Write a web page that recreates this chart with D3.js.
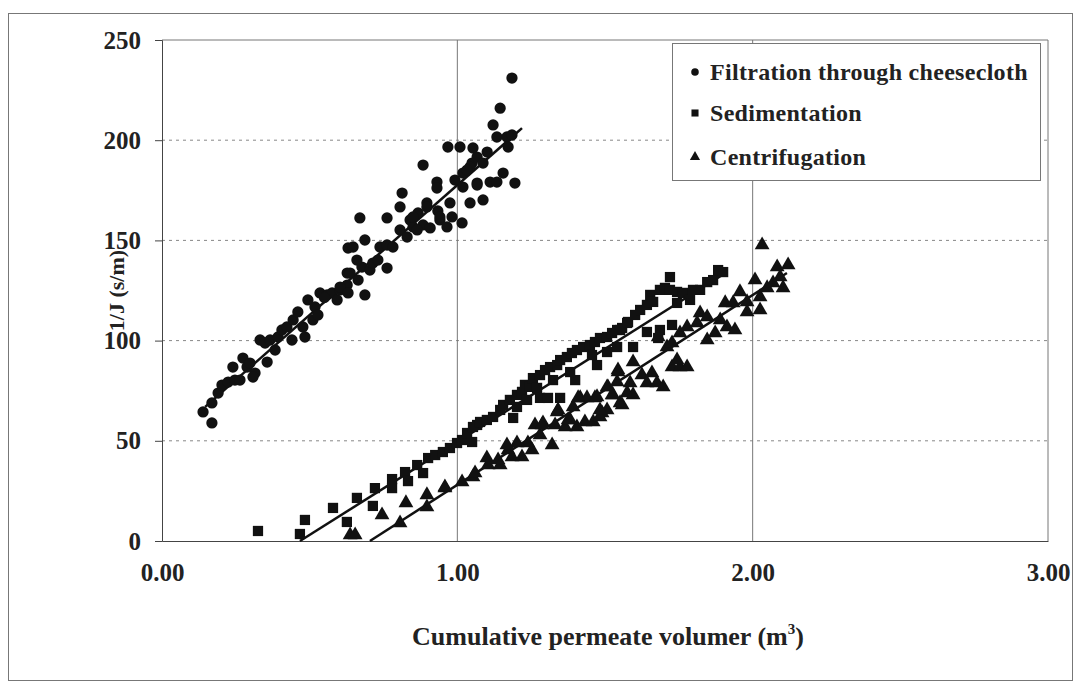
<!DOCTYPE html>
<html><head><meta charset="utf-8">
<script src="https://cdn.jsdelivr.net/npm/d3@7"></script>
<style>
html,body{margin:0;padding:0;background:#fff;}
svg{display:block;font-family:"Liberation Serif","Times New Roman",serif;}
</style></head>
<body><svg id="chart" width="1077" height="690"></svg>
<script>
const xTicks = [0, 1, 2, 3];
const xTickLabels = ["0.00", "1.00", "2.00", "3.00"];
const yTicks = [0, 50, 100, 150, 200, 250];
const seriesNames = ["Filtration through cheesecloth", "Sedimentation", "Centrifugation"];

const filtration = [
[0.139,64.4],[0.169,58.9],[0.169,68.9],[0.19,73.8],[0.203,77.8],[0.224,79.3],[0.247,80.3],[0.24,86.8],
[0.264,80.3],[0.274,91.3],[0.288,86.8],[0.298,88.8],[0.315,83.8],[0.308,81.8],[0.332,100.3],[0.349,98.8],
[0.356,89.3],[0.366,100.3],[0.383,95.3],[0.393,101.8],[0.406,105.3],[0.423,106.8],[0.44,100.3],[0.444,110.3],
[0.46,114.3],[0.477,106.8],[0.484,101.8],[0.494,120.3],[0.511,110.3],[0.518,116.8],[0.528,112.8],[0.535,123.8],
[0.559,122.8],[0.576,123.8],[0.593,120.3],[0.603,125.3],[0.627,133.7],[0.627,127.7],[0.63,146.2],[0.55,121.5],
[0.603,126.7],[0.63,123.8],[0.637,133.7],[0.664,130.2],[0.687,122.8],[0.677,136.7],[0.66,140.2],[0.647,146.7],
[0.687,150.2],[0.704,135.2],[0.714,138.7],[0.731,140.2],[0.762,136.2],[0.738,146.7],[0.762,147.7],[0.782,146.7],
[0.806,155.2],[0.83,151.7],[0.84,160.2],[0.85,156.7],[0.867,163.7],[0.884,157.7],[0.897,168.7],[0.908,156.2],
[0.934,164.7],[0.941,160.2],[0.965,156.7],[0.982,161.7],[1.016,158.7],[0.806,166.7],[0.813,173.6],[0.762,161.2],
[0.67,161.2],[0.884,187.6],[0.931,179.1],[0.931,176.1],[0.975,168.7],[0.992,180.1],[1.019,176.6],[1.019,183.6],
[1.043,168.7],[1.067,178.6],[1.087,170.2],[1.111,179.1],[1.05,188.6],[1.185,231],[1.145,216],[1.121,207.6],
[1.134,201.6],[1.168,201.6],[1.185,202.6],[1.172,196.6],[0.968,196.6],[1.009,196.6],[1.053,196.1],[1.067,191.6],
[1.101,194.1],[1.087,188.6],[1.043,186.6],[1.033,185.1],[1.134,179.1],[1.155,183.6],[1.195,178.6],[1.067,177.6],
[0.85,161.7],[0.897,166.7],[0.941,161.7],[0.864,155.2]
];

const sedimentation = [
[0.325,5],[0.467,3.5],[0.484,10.5],[0.579,16.5],[0.626,9.5],[0.66,21.5],[0.714,17.5],[0.721,26.4],
[0.779,30.9],[0.779,26.4],[0.823,34.4],[0.833,29.9],[0.864,37.9],[0.884,33.9],[0.901,41.4],[0.925,42.9],
[0.951,44.4],[0.975,46.4],[0.999,48.9],[1.016,50.4],[1.033,53.9],[1.05,49.4],[1.067,57.9],[1.053,56.9],
[1.077,59.4],[1.1,60.4],[1.121,61.9],[1.145,65.4],[1.155,67.9],[1.178,70.4],[1.202,72.9],[1.219,74.4],
[1.229,77.9],[1.246,76.9],[1.256,81.3],[1.28,82.8],[1.297,85.3],[1.314,86.8],[1.338,87.8],[1.348,90.3],
[1.371,91.8],[1.388,93.8],[1.405,95.3],[1.426,96.8],[1.449,97.8],[1.466,99.3],[1.483,101.3],[1.507,101.8],
[1.524,103.8],[1.541,105.3],[1.558,106.3],[1.575,108.8],[1.189,61.4],[1.28,71.4],[1.307,71.4],[1.348,71.4],
[1.399,80.3],[1.382,84.3],[1.473,87.8],[1.507,94.3],[1.541,96.8],[1.236,70.4],[1.202,66.9],[1.27,76.4],
[1.324,80.3],[1.456,92.8],[1.595,96.8],[1.642,104.3],[1.686,105.3],[1.68,101.3],[1.727,107.8],[1.551,105.3],
[1.578,109.3],[1.602,112.8],[1.619,115.3],[1.642,117.8],[1.653,122.8],[1.663,119.3],[1.686,125.3],[1.703,126.3],
[1.72,131.7],[1.72,125.3],[1.744,124.3],[1.764,123.8],[1.788,120.3],[1.798,125.3],[1.822,125.3],[1.846,129.2],
[1.866,130.2],[1.883,135.2],[1.9,134.2],[1.744,118.8]
];

const centrifugation = [
[0.637,3],[0.654,3],[0.745,13],[0.806,9],[0.826,19],[0.897,23],[0.897,17],[0.958,26.4],[1.016,29.4],[1.053,31.9],
[0.958,26.9],[1.06,33.9],[1.1,41.4],[1.104,37.9],[1.138,40.4],[1.145,37.9],[1.172,45.4],[1.185,41.9],[1.202,48.9],
[1.219,41.9],[1.239,48.9],[1.253,45.4],[1.28,52.9],[1.263,57.9],[1.29,58.9],[1.321,47.9],[1.331,57.9],[1.341,65.4],
[1.365,56.9],[1.375,60.4],[1.392,66.9],[1.405,56.9],[1.416,71.4],[1.432,59.4],[1.439,71.4],[1.46,59.4],[1.466,71.4],
[1.49,63.9],[1.507,65.4],[1.51,76.8],[1.527,72.9],[1.558,67.9],[1.575,73.9],[1.595,72.9],[1.168,47.9],[1.287,57.9],
[1.338,64.4],[1.409,71.4],[1.473,71.9],[1.507,76.8],[1.544,85.3],[1.524,72.9],[1.551,68.9],[1.382,60.4],[1.483,61.9],
[1.541,79.3],[1.483,65.4],[1.544,84.3],[1.585,78.8],[1.595,89.3],[1.625,82.8],[1.642,78.8],[1.659,83.8],[1.676,78.8],
[1.697,76.8],[1.68,101.8],[1.71,96.8],[1.727,86.8],[1.754,86.8],[1.778,86.8],[1.744,90.3],[1.727,98.8],[1.754,103.8],
[1.778,106.8],[1.812,108.8],[1.822,113.8],[1.846,111.8],[1.846,100.3],[1.873,103.8],[1.89,110.3],[1.913,106.8],
[1.94,105.3],[1.907,118.8],[1.934,118.8],[1.957,124.3],[1.981,119.3],[1.981,114.3],[2.032,147.7],[2.008,130.2],
[2.025,121.8],[2.025,115.3],[2.049,126.3],[2.069,128.7],[2.083,136.7],[2.093,131.7],[2.12,137.7],[2.103,126.3]
];

const fitFiltration = [[0.146,66.9],[1.219,206]];
const fitSedimentation = [[0.467,0],[1.9,133]];
const fitCentrifugation = [[0.704,0],[2.116,133.7]];

const svg = d3.select("#chart");
const W = 1077, H = 690;
const margin = {left:162, right:29, top:40, bottom:149};
const x = d3.scaleLinear().domain([0,3]).range([margin.left, W - margin.right]);
const y = d3.scaleLinear().domain([0,250]).range([H - margin.bottom, margin.top]);
const FONT = "Liberation Serif";

// outer frame
svg.append("rect").attr("x",8.5).attr("y",13.5).attr("width",1064).attr("height",667)
  .attr("fill","none").attr("stroke","#777").attr("stroke-width",1);

// horizontal dashed gridlines
svg.append("g").selectAll("line").data(yTicks.filter(d=>d>0 && d<250)).join("line")
  .attr("x1",x(0)).attr("x2",x(3)).attr("y1",d=>y(d)).attr("y2",d=>y(d))
  .attr("stroke","#888").attr("stroke-width",1).attr("stroke-dasharray","3,4");
// vertical gridlines
svg.append("g").selectAll("line").data(xTicks.filter(d=>d>0)).join("line")
  .attr("x1",d=>x(d)).attr("x2",d=>x(d)).attr("y1",y(0)).attr("y2",y(250))
  .attr("stroke","#777").attr("stroke-width",1);
// top border
svg.append("line").attr("x1",x(0)).attr("x2",x(3)).attr("y1",y(250)).attr("y2",y(250))
  .attr("stroke","#777");

// y axis
const yAxis = d3.axisLeft(y).tickValues(yTicks).tickSize(7).tickPadding(14).tickFormat(d3.format("d"));
const gy = svg.append("g").attr("transform",`translate(${x(0)},0)`).call(yAxis);
gy.select(".domain").attr("stroke","#444");
gy.selectAll(".tick line").attr("stroke","#444");
gy.selectAll(".tick text").attr("font-family",FONT).attr("font-weight","bold")
  .attr("font-size",25).attr("fill","#222");

// x axis
const xAxis = d3.axisBottom(x).tickValues(xTicks).tickSize(0).tickPadding(22)
  .tickFormat((d,i)=>xTickLabels[i]);
const gx = svg.append("g").attr("transform",`translate(0,${y(0)})`).call(xAxis);
gx.select(".domain").attr("stroke","#444");
gx.selectAll(".tick text").attr("font-family",FONT).attr("font-weight","bold")
  .attr("font-size",25).attr("fill","#222");

// axis titles
svg.append("text").attr("transform",`translate(124,${y(125)}) rotate(-90)`)
  .attr("text-anchor","middle").attr("font-family",FONT).attr("font-weight","bold")
  .attr("font-size",22).attr("fill","#222").text("1/J (s/m)");
const xt = svg.append("text").attr("x",(x(0)+x(3))/2 + 3).attr("y",645).attr("text-anchor","middle")
  .attr("font-family",FONT).attr("font-weight","bold").attr("font-size",26).attr("fill","#222");
xt.append("tspan").text("Cumulative permeate volumer (m");
xt.append("tspan").attr("dy",-11).attr("font-size",15).text("3");
xt.append("tspan").attr("dy",11).text(")");

// fit lines
const line = d3.line().x(d=>x(d[0])).y(d=>y(d[1]));
[fitFiltration, fitSedimentation, fitCentrifugation].forEach(f=>{
  svg.append("path").attr("d",line(f)).attr("stroke","#111").attr("stroke-width",2.5).attr("fill","none");
});

// points
const sym = [d3.symbolCircle, d3.symbolSquare, d3.symbolTriangle];
const sizes = [100, 105, 95];
[filtration, sedimentation, centrifugation].forEach((data,i)=>{
  svg.append("g").selectAll("path").data(data).join("path")
    .attr("transform",d=>`translate(${x(d[0])},${y(d[1])})`)
    .attr("d",d3.symbol().type(sym[i]).size(sizes[i])).attr("fill","#111");
});

// legend
const lg = svg.append("g");
lg.append("rect").attr("x",672.5).attr("y",43.5).attr("width",368).attr("height",137)
  .attr("fill","#fff").attr("stroke","#777");
const rowsY = [72, 113, 157];
seriesNames.forEach((n,i)=>{
  lg.append("path").attr("transform",`translate(695,${rowsY[i]})`)
    .attr("d",d3.symbol().type(sym[i]).size([45,50,45][i])).attr("fill","#111");
  lg.append("text").attr("x",710).attr("y",rowsY[i]+8).attr("font-family",FONT).attr("font-weight","bold")
    .attr("font-size",24).attr("letter-spacing",0.3).attr("fill","#222").text(n);
});
</script></body></html>
